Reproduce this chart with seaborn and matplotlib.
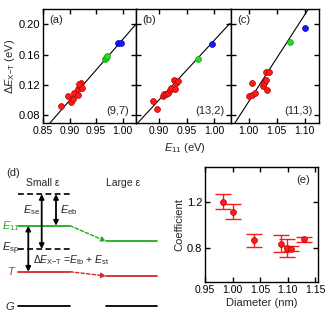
import numpy as np
import pandas as pd
import seaborn as sns
import matplotlib
matplotlib.use("Agg")
import matplotlib.pyplot as plt

sns.set_style("ticks")
plt.rcParams['font.family'] = ['Liberation Sans', 'DejaVu Sans']
plt.rcParams['mathtext.fontset'] = 'custom'
plt.rcParams['mathtext.rm'] = 'Liberation Sans'
plt.rcParams['mathtext.it'] = 'Liberation Sans:italic'
plt.rcParams['mathtext.bf'] = 'Liberation Sans:bold'

# ---------------- data ----------------
# panel (a) (9,7)
a_red_x = [0.883, 0.897, 0.902, 0.907, 0.909, 0.915, 0.915, 0.919, 0.922, 0.924, 0.918]
a_red_y = [0.092, 0.105, 0.098, 0.102, 0.110, 0.107, 0.115, 0.119, 0.123, 0.116, 0.121]
a_green_x = [0.966, 0.968, 0.970]
a_green_y = [0.154, 0.156, 0.158]
a_blue_x = [0.992, 0.997]
a_blue_y = [0.175, 0.175]
a_line_x = [0.863, 1.025]
a_line_y = [0.070, 0.200]

# panel (b) (13,2)
b_red_x = [0.888, 0.896, 0.9065, 0.908, 0.913, 0.916, 0.919, 0.922, 0.926, 0.929, 0.931, 0.934]
b_red_y = [0.0985, 0.088, 0.106, 0.108, 0.108, 0.110, 0.114, 0.116, 0.127, 0.115, 0.1226, 0.1247]
b_green_x = [0.970]
b_green_y = [0.1545]
b_blue_x = [0.9957]
b_blue_y = [0.1738]
b_line_x = [0.861, 1.028]
b_line_y = [0.070, 0.201]

# panel (c) (11,3)
c_red_x = [1.001, 1.005, 1.011, 1.006, 1.025, 1.028, 1.030, 1.031, 1.036, 1.033]
c_red_y = [0.105, 0.107, 0.110, 0.1226, 0.119, 0.123, 0.127, 0.1365, 0.137, 0.114]
c_green_x = [1.0745]
c_green_y = [0.1764]
c_blue_x = [1.100]
c_blue_y = [0.1947]
c_line_x = [0.975, 1.107]
c_line_y = [0.070, 0.220]

# panel (e)
diameter = [0.983, 1.0015, 1.038, 1.088, 1.098, 1.106, 1.130]
coefficient = [1.20, 1.11, 0.863, 0.834, 0.793, 0.790, 0.870]
coef_err = [0.065, 0.064, 0.058, 0.071, 0.077, 0.020, 0.022]

# panel (d) schematic energies (arbitrary units, G = 0)
lvl_top = 1.0
lvl_E11_small = 0.717
lvl_Esp = 0.509
lvl_T_small = 0.306
lvl_G = 0.0
lvl_E11_large = 0.578
lvl_T_large = 0.268

RED = '#ff1a1a'
RED_E = '#b00000'
GREEN = '#22dd22'
GREEN_E = '#119911'
BLUE = '#1a1aff'
BLUE_E = '#0000aa'
DGREEN = '#1faa1f'
DRED = '#d42a2a'

W, H = 328, 320
fig = plt.figure(figsize=(W / 100, H / 100), dpi=100)


def px_axes(x0, x1, y0, y1):
    return fig.add_axes([x0 / W, 1 - y1 / H, (x1 - x0) / W, (y1 - y0) / H])


def style_axes(ax, labelleft=True):
    for s in ax.spines.values():
        s.set_linewidth(1.0)
        s.set_color('black')
    ax.tick_params(direction='in', top=True, right=True, length=3.5, width=1.0,
                   labelsize=7.5, pad=2, labelleft=labelleft, colors='black')
    ax.tick_params(axis='y', labelsize=8)


panels = [
    dict(box=(43, 136, 9, 123), xlim=(0.85, 1.025), xt=[0.85, 0.90, 0.95, 1.00],
         red=(a_red_x, a_red_y), green=(a_green_x, a_green_y), blue=(a_blue_x, a_blue_y),
         line=(a_line_x, a_line_y), tag='(a)', chir='(9,7)'),
    dict(box=(136, 231, 9, 123), xlim=(0.858, 1.03), xt=[0.90, 0.95, 1.00],
         red=(b_red_x, b_red_y), green=(b_green_x, b_green_y), blue=(b_blue_x, b_blue_y),
         line=(b_line_x, b_line_y), tag='(b)', chir='(13,2)'),
    dict(box=(231, 319, 9, 123), xlim=(0.968, 1.126), xt=[1.00, 1.05, 1.10],
         red=(c_red_x, c_red_y), green=(c_green_x, c_green_y), blue=(c_blue_x, c_blue_y),
         line=(c_line_x, c_line_y), tag='(c)', chir='(11,3)'),
]

for i, p in enumerate(panels):
    ax = px_axes(*p['box'])
    sns.lineplot(x=p['line'][0], y=p['line'][1], ax=ax, color='black', lw=0.8,
                 estimator=None, sort=False, zorder=2)
    for (xs, ys), fc, ec in [(p['red'], RED, RED_E), (p['green'], GREEN, GREEN_E),
                             (p['blue'], BLUE, BLUE_E)]:
        sns.scatterplot(x=xs, y=ys, ax=ax, color=fc, edgecolor=ec, s=18,
                        linewidth=0.5, legend=False, zorder=3)
    ax.set_xlim(*p['xlim'])
    ax.set_ylim(0.07, 0.22)
    ax.set_xticks(p['xt'])
    ax.set_xticklabels([f'{v:.2f}' for v in p['xt']])
    ax.set_yticks([0.08, 0.12, 0.16, 0.20])
    ax.set_yticklabels(['0.08', '0.12', '0.16', '0.20'])
    ax.set_xlabel('')
    ax.set_ylabel('')
    style_axes(ax, labelleft=(i == 0))
    ax.text(0.07, 0.95, p['tag'], transform=ax.transAxes, ha='left', va='top', fontsize=8)
    ax.text(0.93, 0.06, p['chir'], transform=ax.transAxes, ha='right', va='bottom', fontsize=8)

fig.text(10 / W, 1 - 66 / H, r'$\Delta\mathit{E}_{\mathrm{X\mathrm{-}T}}$ (eV)', rotation=90,
         ha='center', va='center', fontsize=8)
fig.text(185 / W, 1 - 148 / H, r'$\mathit{E}_{11}$ (eV)', ha='center', va='center', fontsize=8)

# ---------------- panel (e) ----------------
axe = px_axes(205, 318, 167, 282)
axe.errorbar(diameter, coefficient, yerr=coef_err, fmt='none', ecolor=RED,
             elinewidth=1.0, capsize=6, capthick=1.0, zorder=2)
sns.scatterplot(x=diameter, y=coefficient, ax=axe, color=RED, edgecolor=RED_E, s=18,
                linewidth=0.5, legend=False, zorder=3)
axe.set_xlim(0.95, 1.155)
axe.set_ylim(0.5, 1.5)
axe.set_xticks([0.95, 1.00, 1.05, 1.10, 1.15])
axe.set_xticklabels(['0.95', '1.00', '1.05', '1.10', '1.15'])
axe.set_yticks([0.8, 1.2])
axe.set_yticklabels(['0.8', '1.2'])
style_axes(axe)
axe.set_xlabel('Diameter (nm)', fontsize=8, labelpad=2)
axe.set_ylabel('Coefficient', fontsize=8, labelpad=2)
axe.text(0.93, 0.93, '(e)', transform=axe.transAxes, ha='right', va='top', fontsize=8)

# ---------------- panel (d) ----------------
axd = fig.add_axes([0, 0, 180 / W, 160 / H])
axd.set_xlim(0, 180)
axd.set_ylim(-0.125, 1.304)
axd.axis('off')

xs_small = [18, 70]
xs_large = [106, 157]
axd.plot(xs_small, [lvl_top] * 2, color='black', lw=1.2, ls=(0, (3.5, 2)))
axd.plot(xs_small, [lvl_Esp] * 2, color='black', lw=1.2, ls=(0, (3.5, 2)))
axd.plot(xs_small, [lvl_E11_small] * 2, color=DGREEN, lw=1.3)
axd.plot(xs_small, [lvl_T_small] * 2, color=DRED, lw=1.3)
axd.plot(xs_small, [lvl_G] * 2, color='black', lw=1.3)
axd.plot(xs_large, [lvl_E11_large] * 2, color=DGREEN, lw=1.3)
axd.plot(xs_large, [lvl_T_large] * 2, color=DRED, lw=1.3)
axd.plot(xs_large, [lvl_G] * 2, color='black', lw=1.3)

dbl = dict(arrowstyle='<|-|>', color='black', lw=1.3, shrinkA=0, shrinkB=0,
           mutation_scale=7)
axd.annotate('', xy=(41.7, lvl_Esp), xytext=(41.7, lvl_top), arrowprops=dbl)
axd.annotate('', xy=(56, lvl_E11_small), xytext=(56, lvl_top), arrowprops=dbl)
axd.annotate('', xy=(28.3, lvl_T_small), xytext=(28.3, lvl_E11_small), arrowprops=dbl)

axd.annotate('', xy=(106, lvl_E11_large), xytext=(70, lvl_E11_small),
             arrowprops=dict(arrowstyle='-|>', color=DGREEN, lw=1.0, ls=(0, (2.5, 1.5)),
                             shrinkA=0, shrinkB=0, mutation_scale=7))
axd.annotate('', xy=(106, lvl_T_large), xytext=(70, lvl_T_small),
             arrowprops=dict(arrowstyle='-|>', color=DRED, lw=1.0, ls=(0, (2.5, 1.5)),
                             shrinkA=0, shrinkB=0, mutation_scale=7))

axd.text(6, 1.19, '(d)', ha='left', va='center', fontsize=8)
axd.text(43, 1.098, 'Small ε', ha='center', va='center', fontsize=7.5)
axd.text(123, 1.098, 'Large ε', ha='center', va='center', fontsize=7.5)
axd.text(11, lvl_E11_small, r'$\mathit{E}_{11}$', ha='center', va='center', fontsize=8, color=DGREEN)
axd.text(11, lvl_Esp, r'$\mathit{E}_{\mathrm{sp}}$', ha='center', va='center', fontsize=8)
axd.text(12, lvl_T_small + 0.01, r'$\mathit{T}$', ha='center', va='center', fontsize=8, color=DRED)
axd.text(10, lvl_G, r'$\mathit{G}$', ha='center', va='center', fontsize=8)
axd.text(31.5, 0.857, r'$\mathit{E}_{\mathrm{se}}$', ha='center', va='center', fontsize=8)
axd.text(69, 0.857, r'$\mathit{E}_{\mathrm{eb}}$', ha='center', va='center', fontsize=8)
axd.text(33, 0.41, r'$\Delta\mathit{E}_{\mathrm{X\mathrm{-}T}}$ =$\mathit{E}_{\mathrm{tb}}$ + $\mathit{E}_{\mathrm{st}}$',
         ha='left', va='center', fontsize=7.5)

fig.savefig('out.png', dpi=100)
